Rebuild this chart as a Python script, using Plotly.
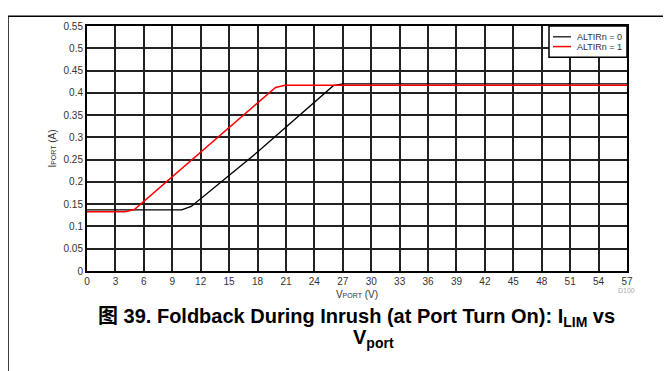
import plotly.graph_objects as go

# Data
black_x = [0, 10, 11, 18, 26, 27, 57]
black_y = [0.137, 0.137, 0.145, 0.267, 0.416, 0.420, 0.420]
red_x = [0, 4, 5, 12, 19.9, 20.9, 57]
red_y = [0.133, 0.133, 0.138, 0.266, 0.412, 0.417, 0.417]
x_ticks = list(range(0, 58, 3))
y_ticks = [round(i * 0.05, 2) for i in range(12)]
y_tick_labels = ["0", "0.05", "0.1", "0.15", "0.2", "0.25", "0.3", "0.35", "0.4", "0.45", "0.5", "0.55"]
series_names = ["ALTIRn = 0", "ALTIRn = 1"]
series_colors = ["black", "#ff0000"]

# page has an 8px body margin; work in absolute window pixels
OFF = 8
W, H = 671 - OFF, 371 - OFF
L, R, T, B = 87, 627, 21, 271
pw, ph = R - L, B - T

def px(x):
    return (x - L) / pw

def py(y):
    return (B - y) / ph

fig = go.Figure()
fig.add_trace(go.Scatter(x=black_x, y=black_y, mode="lines", name=series_names[0],
                         line=dict(color=series_colors[0], width=1.3)))
fig.add_trace(go.Scatter(x=red_x, y=red_y, mode="lines", name=series_names[1],
                         line=dict(color=series_colors[1], width=1.5)))

font = "Arial, Liberation Sans, Noto Sans CJK SC, sans-serif"

fig.update_layout(
    width=W, height=H,
    margin=dict(l=L - OFF, r=(671 - R), t=T - OFF, b=(371 - B), pad=0),
    paper_bgcolor="white", plot_bgcolor="white",
    font=dict(family=font, size=10, color="#333"),
    showlegend=False,
    xaxis=dict(range=[0, 57], tickvals=x_ticks, showgrid=True, gridcolor="#222",
               gridwidth=1.5, zeroline=False, showline=True, linecolor="black",
               linewidth=2, mirror=True, ticks="", tickfont=dict(size=10, color="#333"),
               title=dict(text="V<span style='font-size:7px'>PORT</span> (V)",
                          font=dict(size=10, color="#333"), standoff=5)),
    yaxis=dict(range=[0, 0.55], tickvals=y_ticks, ticktext=y_tick_labels,
               showgrid=True, gridcolor="#222", gridwidth=1.5, zeroline=False,
               showline=True, linecolor="black", linewidth=2, mirror=True,
               ticks="", tickfont=dict(size=10, color="#333"),
               title=dict(text="I<span style='font-size:7px'>PORT</span> (A)",
                          font=dict(size=10, color="#333"), standoff=5)),
)

# Outer frame (top and left edges)
fig.add_shape(type="line", xref="paper", yref="paper",
              x0=px(8), x1=px(680), y0=py(11), y1=py(11),
              line=dict(color="black", width=1.5))
fig.add_shape(type="line", xref="paper", yref="paper",
              x0=px(8), x1=px(8), y0=py(11), y1=py(380),
              line=dict(color="black", width=1.5))

# Legend box drawn manually to match compact reference legend
fig.add_shape(type="rect", xref="paper", yref="paper",
              x0=px(549), x1=px(627), y0=py(53), y1=py(21),
              line=dict(color="black", width=1.5), fillcolor="white", layer="above")
for i, (nm, col) in enumerate(zip(series_names, series_colors)):
    yy = 32 + i * 10
    fig.add_shape(type="line", xref="paper", yref="paper",
                  x0=px(553), x1=px(571), y0=py(yy), y1=py(yy),
                  line=dict(color=col if col != "black" else "#333", width=1.5), layer="above")
    fig.add_annotation(xref="paper", yref="paper", x=px(575), y=py(yy),
                       xanchor="left", yanchor="middle", text=nm, showarrow=False,
                       font=dict(size=9, color="#333"))

fig.add_annotation(xref="paper", yref="paper", x=px(637), y=py(297),
                   text="D100", showarrow=False,
                   font=dict(size=7, color="#aaa"))

fig.add_annotation(xref="paper", yref="paper", x=px(356), y=py(304),
                   xanchor="center", yanchor="top", align="center",
                   text="<b>图 39. Foldback During Inrush (at Port Turn On): I<sub>LIM</sub> vs</b>",
                   showarrow=False,
                   font=dict(size=20, color="black", family=font))
fig.add_annotation(xref="paper", yref="paper", x=px(373), y=py(325),
                   xanchor="center", yanchor="top", align="center",
                   text="<b>V<sub>port</sub></b>",
                   showarrow=False,
                   font=dict(size=20, color="black", family=font))

fig.write_html("out.html")
